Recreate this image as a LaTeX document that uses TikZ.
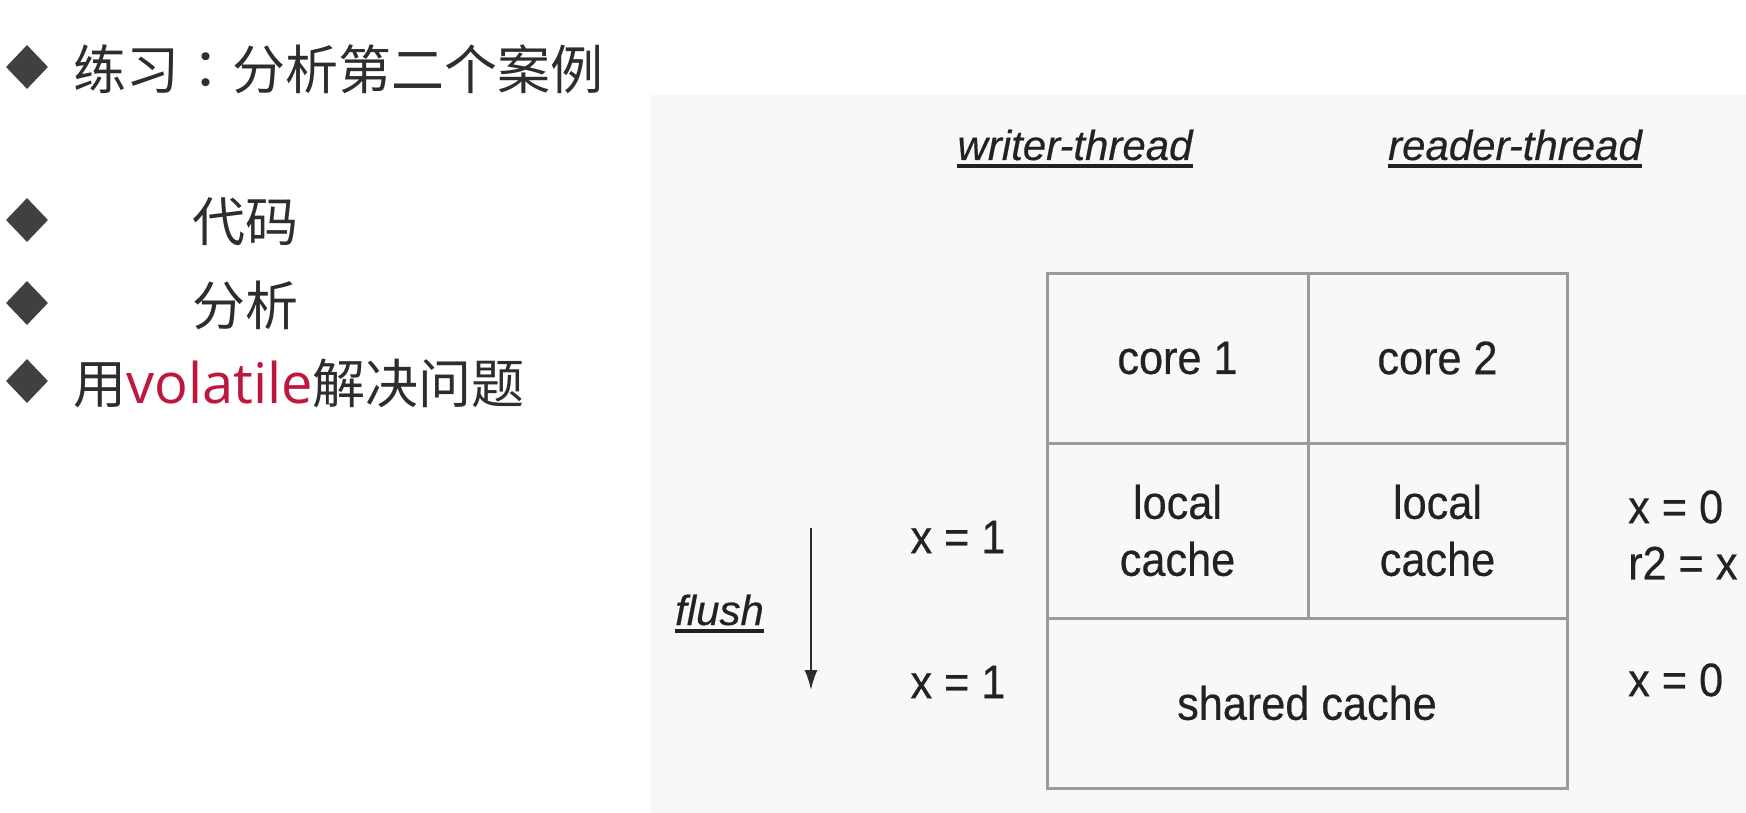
\documentclass[tikz,border=0pt]{standalone}
\usepackage{fontspec}
\usetikzlibrary{shapes.geometric,arrows.meta}
\newfontfamily\cjkfont{Noto Sans CJK SC}
\newfontfamily\tcfont{Noto Sans CJK TC}
\newfontfamily\vfont{Open Sans}
\newfontfamily\dfont[FakeStretch=0.92,FakeBold=0.4]{Liberation Sans}
\newfontfamily\hfont[FakeBold=0.4]{Liberation Sans}
\definecolor{panel}{RGB}{248,248,249}
\definecolor{gridc}{RGB}{155,155,155}
\definecolor{ink}{RGB}{45,45,45}
\definecolor{dink}{RGB}{34,34,34}
\definecolor{bul}{RGB}{64,64,64}
\definecolor{volred}{RGB}{190,22,60}
\tikzset{
 bullet/.style={diamond, fill=bul, draw=none, minimum width=42pt, minimum height=44pt, inner sep=0pt},
 cn/.style={anchor=base west, inner sep=0pt, text=ink, font=\cjkfont\fontsize{53}{60}\selectfont},
 cell/.style={draw=gridc, line width=3pt, inner sep=0pt, outer sep=0pt, text=dink, font=\dfont\fontsize{47}{57}\selectfont, align=center},
 lbl/.style={inner sep=0pt, text=dink, font=\dfont\fontsize{47}{57}\selectfont},
 hd/.style={anchor=base, inner sep=0pt, text=dink, font=\hfont\itshape\fontsize{42}{50}\selectfont},
 uline/.style={draw=dink, line width=3.5pt},
 flow/.style={draw=ink, line width=2pt, -{Latex[length=20pt,width=13pt]}}
}
\begin{document}
\begin{tikzpicture}[x=1pt,y=-1pt]
\useasboundingbox (0,0) rectangle (1746,813);
\fill[white] (0,0) rectangle (1746,813);
\fill[panel] (650,95) rectangle (1746,813);

% left bullet list
\node[bullet] (b1) at (27,67) {};
\node[bullet] (b2) at (27,220) {};
\node[bullet] (b3) at (27,303) {};
\node[bullet] (b4) at (27,381) {};
\node[cn] (t1) at (73,90) {练习{\tcfont ：}分析第二个案例};
\node[cn] (t2) at (192,242) {代码};
\node[cn] (t3) at (192,325) {分析};
\node[cn] (t4) at (73,403) {用{\vfont\fontsize{56}{60}\selectfont\color{volred}volatile}解决问题};

% headers
\node[hd] (wt) at (1075,160) {writer-thread};
\node[hd] (rt) at (1515,160) {reader-thread};
\draw[uline] ([yshift=-6pt]wt.base west) -- ([yshift=-6pt]wt.base east);
\draw[uline] ([yshift=-6pt]rt.base west) -- ([yshift=-6pt]rt.base east);

% grid
\node[cell, minimum width=261pt, minimum height=170pt] (c1) at (1177.5,358) {core 1};
\node[cell, minimum width=259pt, minimum height=170pt] (c2) at (1437.5,358) {core 2};
\node[cell, minimum width=261pt, minimum height=175pt] (l1) at (1177.5,530.5) {local\\cache};
\node[cell, minimum width=259pt, minimum height=175pt] (l2) at (1437.5,530.5) {local\\cache};
\node[cell, minimum width=520pt, minimum height=170pt] (sc) at (1307,703) {shared cache};

% side labels
\node[lbl] (w1) at (958,537) {x = 1};
\node[lbl] (w2) at (958,682) {x = 1};
\node[lbl, anchor=west] (r1) at (1628,507) {x = 0};
\node[lbl, anchor=west] (r2) at (1628,563) {r2 = x};
\node[lbl, anchor=west] (r3) at (1628,680) {x = 0};

% flush
\node[hd] (fl) at (719.5,625) {flush};
\draw[uline] ([yshift=-6pt]fl.base west) -- ([yshift=-6pt]fl.base east);
\coordinate (fa) at (811,528);
\coordinate (fb) at (811,690);
\draw[flow] (fa) -- (fb);
\end{tikzpicture}
\end{document}
